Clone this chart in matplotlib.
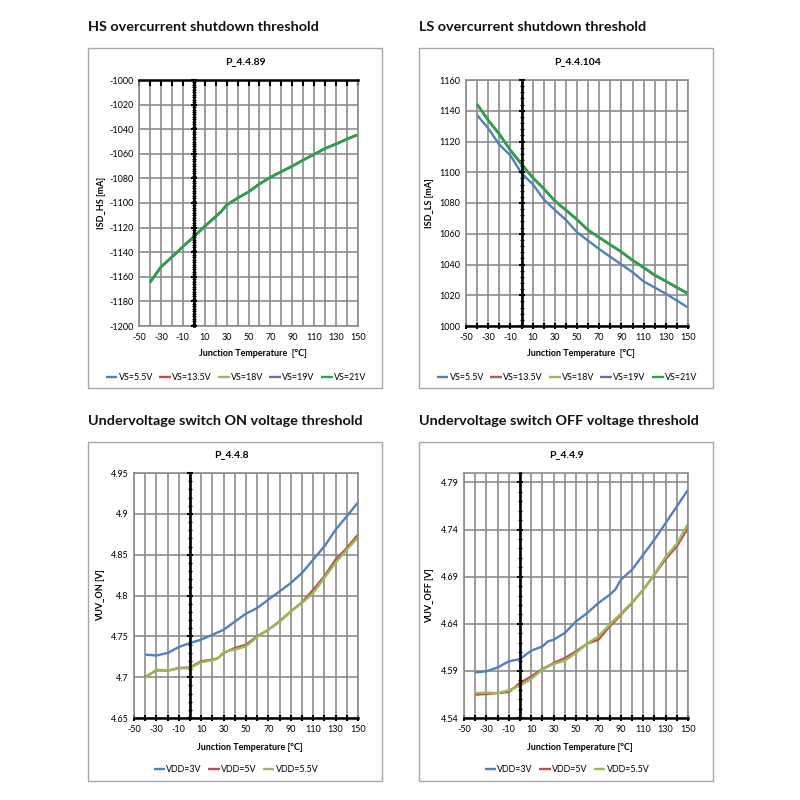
import numpy as np
import matplotlib
matplotlib.use('Agg')
import matplotlib.pyplot as plt
from matplotlib.patches import Rectangle
from matplotlib.ticker import MultipleLocator

# ---- data ----
hs_temp = [-40, -30, -20, -10, 0, 10, 20, 25, 30, 40, 50, 60, 70, 80, 90, 100, 110, 120, 130, 140, 150]
hs_vs5_5 = [-1164.7, -1152.2, -1144.1, -1135.6, -1127.5, -1119.1, -1111.2, -1107.1, -1101.8, -1096.1, -1091.1,
            -1084.6, -1079.2, -1074.6, -1070.1, -1065.1, -1060.5, -1055.7, -1052.1, -1048.1, -1044.5]
hs_vs13_5 = [-1164.6, -1152.1, -1144.0, -1135.5, -1127.4, -1119.0, -1111.1, -1107.0, -1101.7, -1096.0, -1091.0,
             -1084.5, -1079.1, -1074.5, -1070.0, -1065.0, -1060.4, -1055.6, -1052.0, -1048.0, -1044.4]
hs_vs18 = [-1164.5, -1152.0, -1144.0, -1135.5, -1127.4, -1119.0, -1111.0, -1107.0, -1101.6, -1096.0, -1091.0,
           -1084.5, -1079.0, -1074.5, -1070.0, -1065.0, -1060.4, -1055.6, -1052.0, -1048.0, -1044.4]
hs_vs19 = hs_vs18
hs_vs21 = [-1164.5, -1152.0, -1144.0, -1135.5, -1127.4, -1119.0, -1111.0, -1107.0, -1101.6, -1096.0, -1091.0,
           -1084.5, -1079.0, -1074.5, -1070.0, -1065.0, -1060.4, -1055.6, -1052.0, -1048.0, -1044.4]

ls_temp = [-40, -30, -20, -10, 0, 10, 20, 30, 40, 50, 60, 70, 80, 90, 100, 110, 120, 130, 140, 150]
ls_vs5_5 = [1137.2, 1128.6, 1118.0, 1111.0, 1099.3, 1092.4, 1082.4, 1075.5, 1069.0, 1061.0,
            1055.5, 1050.0, 1045.0, 1040.0, 1035.0, 1029.0, 1025.0, 1021.0, 1016.5, 1012.0]
ls_vs13_5 = [1144.2, 1133.8, 1124.7, 1114.3, 1105.2, 1096.5, 1089.3, 1081.3, 1075.3, 1069.2,
             1062.3, 1057.5, 1052.8, 1048.1, 1042.7, 1038.0, 1033.0, 1029.1, 1025.0, 1021.0]
ls_vs18 = ls_vs13_5
ls_vs19 = ls_vs13_5
ls_vs21 = [1144.4, 1134.0, 1124.9, 1114.5, 1105.4, 1096.7, 1089.5, 1081.5, 1075.5, 1069.4,
           1062.5, 1057.7, 1053.0, 1048.3, 1042.9, 1038.2, 1033.2, 1029.3, 1025.2, 1021.2]

on_temp = [-40, -30, -20, -10, 0, 10, 20, 25, 30, 40, 50, 60, 70, 80, 90, 100, 110, 120, 130, 140, 150]
on_vdd3 = [4.7276, 4.7265, 4.7296, 4.7369, 4.7418, 4.746, 4.752, 4.755, 4.758, 4.768, 4.7778,
           4.7847, 4.795, 4.805, 4.8153, 4.8276, 4.8439, 4.8602, 4.8806, 4.897, 4.914]
on_vdd5 = [4.7002, 4.7084, 4.708, 4.7112, 4.712, 4.7194, 4.7214, 4.7235, 4.7296, 4.7357, 4.7398,
           4.75, 4.7582, 4.7684, 4.7806, 4.7916, 4.8071, 4.8235, 4.8439, 4.8582, 4.8745]
on_vdd5_5 = [4.699, 4.7092, 4.708, 4.7108, 4.7112, 4.7182, 4.7206, 4.723, 4.7308, 4.7337, 4.7378,
             4.7492, 4.7582, 4.7676, 4.7806, 4.7908, 4.803, 4.8216, 4.84, 4.8561, 4.8712]

off_temp = [-40, -30, -20, -10, 0, 10, 20, 25, 30, 40, 50, 60, 70, 80, 85, 90, 100, 110, 120, 130, 140, 150]
off_vdd3 = [4.5884, 4.5895, 4.5937, 4.6001, 4.6026, 4.6114, 4.616, 4.6213, 4.6231, 4.6302, 4.6425,
            4.6514, 4.662, 4.6708, 4.6761, 4.6867, 4.6974, 4.7133, 4.7292, 4.7469, 4.7645, 4.7822]
off_vdd5 = [4.5648, 4.5655, 4.5665, 4.5676, 4.5771, 4.5842, 4.592, 4.595, 4.5983, 4.6036, 4.6107,
            4.6189, 4.6231, 4.6372, 4.643, 4.6496, 4.662, 4.6761, 4.692, 4.7087, 4.7221, 4.7416]
off_vdd5_5 = [4.5665, 4.5669, 4.5665, 4.5694, 4.5743, 4.5814, 4.5913, 4.5945, 4.5973, 4.6008, 4.609,
              4.6189, 4.6267, 4.639, 4.645, 4.6507, 4.6627, 4.6761, 4.6928, 4.7108, 4.725, 4.7461]

vs_labels = ['VS=5.5V', 'VS=13.5V', 'VS=18V', 'VS=19V', 'VS=21V']
vdd_labels = ['VDD=3V', 'VDD=5V', 'VDD=5.5V']

BLUE, RED, LGREEN, PURPLE, GREEN = '#4f81bd', '#c0504d', '#9bbb59', '#8064a2', '#22a845'
GRID = '#8c8c8c'
FRAME = '#a6a6a6'
CHART_FONT = 'Lato'

W = H = 800.0


def fx(x):
    return x / W


def fy(y):
    return 1 - y / H


def draw_panel(fig, frame, plot, heading, title, title_x, ylabel, ylabel_x, xlabel, xlabel_y,
               ylim, ystep, yminor, yfmt, temps, series, labels, colors, legend_y, axis_top=False):
    """Draw one Excel-style chart: heading, frame, plot area, legend."""
    x0, y0, x1, y1 = frame
    fig.add_artist(Rectangle((fx(x0), fy(y1)), fx(x1 - x0), (y1 - y0) / H,
                             transform=fig.transFigure, fill=False, ec=FRAME, lw=1.0))
    fig.text(fx(x0), fy(y0 - 21), heading, fontsize=10.4, fontweight='bold',
             family='Lato', va='center', ha='left', color='#111111')

    px0, py0, px1, py1 = plot
    ax = fig.add_axes([fx(px0), fy(py1), fx(px1 - px0), (py1 - py0) / H])
    for s, lab, c in zip(series, labels, colors):
        ax.plot(temps, s, color=c, lw=1.7, label=lab, solid_capstyle='butt')

    ax.set_xlim(-50, 150)
    ax.set_ylim(*ylim)
    xt = np.arange(-50, 151, 10)
    ax.set_xticks(xt)
    ax.set_xticklabels([str(t) if (t + 50) % 20 == 0 else '' for t in xt],
                       fontsize=6.5, family=CHART_FONT)
    yt = np.arange(ylim[0], ylim[1] + ystep / 2, ystep)
    yt = yt[yt <= ylim[1] + 1e-9]
    ax.set_yticks(yt)
    ax.set_yticklabels([yfmt(v) for v in yt], fontsize=6.5, family=CHART_FONT)
    ax.grid(True, color=GRID, lw=1.2)
    ax.set_axisbelow(True)
    ax.tick_params(axis='y', length=0, pad=4)
    for sp in ax.spines.values():
        sp.set_color(GRID)
        sp.set_linewidth(1.2)

    if axis_top:
        ax.spines['top'].set_color('black')
        ax.spines['top'].set_linewidth(1.8)
        ax.tick_params(axis='x', top=True, bottom=False, labeltop=False, labelbottom=True,
                       direction='in', length=4, width=1.5, color='black', pad=5)
    else:
        ax.spines['bottom'].set_color('black')
        ax.spines['bottom'].set_linewidth(1.8)
        ax.tick_params(axis='x', direction='inout', length=4, width=1.5, color='black', pad=3)

    # vertical axis crossing at 0 degC
    zero = ax.secondary_yaxis(50 / 200)
    zero.set_zorder(3)
    zero.spines['left'].set_color('black')
    zero.spines['left'].set_linewidth(1.9)
    zero.set_yticks(yt)
    zero.yaxis.set_minor_locator(MultipleLocator(yminor))
    zero.tick_params(axis='y', which='major', direction='inout', length=5, width=1.5,
                     labelleft=False)
    zero.tick_params(axis='y', which='minor', direction='inout', length=2.6, width=0.9)

    fig.text(fx(title_x), fy(py0 - 18), title, fontsize=7.5, fontweight='bold',
             family=CHART_FONT, ha='center', va='center')
    fig.text(fx(ylabel_x), fy((py0 + py1) / 2), ylabel, fontsize=6.5, fontweight='bold',
             family=CHART_FONT, rotation=90, ha='center', va='center')
    fig.text(fx((px0 + px1) / 2 + 4), fy(xlabel_y), xlabel, fontsize=6.5, fontweight='bold',
             family=CHART_FONT, ha='center', va='center')
    fig.legend(*ax.get_legend_handles_labels(), loc='center',
               bbox_to_anchor=(fx((x0 + x1) / 2 + 1), fy(legend_y)), ncol=len(labels),
               frameon=False, prop={'family': CHART_FONT, 'size': 6.4},
               handlelength=1.3, handletextpad=0.15, columnspacing=0.7)
    return ax


def main():
    fig = plt.figure(figsize=(8, 8), dpi=100)
    fig.patch.set_facecolor('white')

    draw_panel(fig, (88, 48, 382, 388), (139, 80, 358, 326),
               'HS overcurrent shutdown threshold', 'P_4.4.89', 245,
               'ISD_HS [mA]', 101, 'Junction Temperature  [°C]', 354,
               (-1200, -1000), 20, 2, lambda v: '%d' % v,
               hs_temp, [hs_vs5_5, hs_vs13_5, hs_vs18, hs_vs19, hs_vs21],
               vs_labels, [BLUE, RED, LGREEN, PURPLE, GREEN], 378, axis_top=True)

    draw_panel(fig, (419, 48, 713, 388), (466, 80, 688, 326),
               'LS overcurrent shutdown threshold', 'P_4.4.104', 578,
               'ISD_LS [mA]', 430, 'Junction Temperature  [°C]', 354,
               (1000, 1160), 20, 4, lambda v: '%d' % v,
               ls_temp, [ls_vs5_5, ls_vs13_5, ls_vs18, ls_vs19, ls_vs21],
               vs_labels, [BLUE, RED, LGREEN, PURPLE, GREEN], 378)

    draw_panel(fig, (88, 442, 382, 781), (134, 473, 358, 718),
               'Undervoltage switch ON voltage threshold', 'P_4.4.8', 231,
               'VUV_ON [V]', 101, 'Junction Temperature [°C]', 748,
               (4.65, 4.95), 0.05, 0.01, lambda v: ('%.2f' % v).rstrip('0').rstrip('.'),
               on_temp, [on_vdd3, on_vdd5, on_vdd5_5],
               vdd_labels, [BLUE, RED, LGREEN], 770)

    draw_panel(fig, (419, 442, 713, 781), (464, 473, 688, 718),
               'Undervoltage switch OFF voltage threshold', 'P_4.4.9', 566,
               'VUV_OFF [V]', 430, 'Junction Temperature [°C]', 748,
               (4.54, 4.80), 0.05, 0.01, lambda v: '%.2f' % v,
               off_temp, [off_vdd3, off_vdd5, off_vdd5_5],
               vdd_labels, [BLUE, RED, LGREEN], 770)

    fig.savefig('out.png', dpi=100, facecolor='white')


if __name__ == '__main__':
    main()
